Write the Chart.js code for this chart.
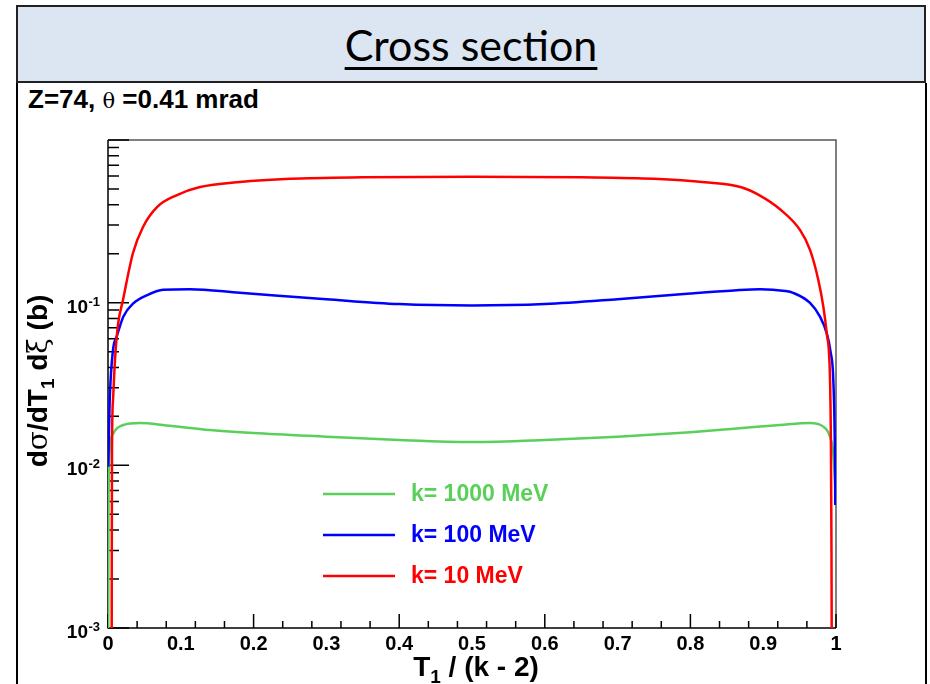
<!DOCTYPE html>
<html>
<head>
<meta charset="utf-8">
<title>Cross section</title>
<script src="https://cdn.jsdelivr.net/npm/chart.js@4.4.1/dist/chart.umd.min.js"></script>
<style>
  html, body { margin: 0; padding: 0; background: #fff; }
  #page { position: relative; width: 930px; height: 684px; overflow: hidden; }
  .band { position: absolute; left: 16px; top: 5px; width: 906px; height: 74px;
          background: #dce6f2; border: 2px solid #222; }
  .band h1 { margin: 0; padding-top: 1px; font: 400 43px Lato, "Open Sans", sans-serif; text-align: center;
             line-height: 74px; text-decoration: underline; text-decoration-thickness: 3px;
             text-underline-offset: 6px; color: #000; }
  .panel { position: absolute; left: 16px; top: 83px; width: 907px; height: 700px;
           border-left: 2px solid #000; border-right: 2px solid #000; }
  .note { position: absolute; left: 28px; top: 84px; line-height: 26px;
          font: bold 26px "Liberation Sans Narrow", Arial, sans-serif; color: #000; white-space: nowrap; }
  .note .sym { font-weight: normal; font-family: "DejaVu Serif", serif; font-size: 21px; }
  canvas { position: absolute; left: 0; top: 0; }
</style>
</head>
<body>
<div id="page">
  <div class="band"><h1>Cross section</h1></div>
  <div class="panel"></div>
  <div class="note">Z=74, <span class="sym">θ</span> =0.41 mrad</div>
  <canvas id="chart" width="930" height="684"></canvas>
</div>

<script>
//======================================================================
// Data: dσ/dT1 dξ against T1/(k-2), three k values.
//======================================================================
var seriesLabels = ['k= 10 MeV', 'k= 100 MeV', 'k= 1000 MeV'];
var seriesColors = ['#ff0000', '#0000ff', '#5ad05a'];

// k = 10 MeV (red)
var red10X = [0.0051, 0.0052, 0.0055, 0.0069, 0.0096, 0.0137, 0.0206, 0.0343, 0.0481, 0.0673,
              0.0948, 0.1264, 0.181, 0.25, 0.35, 0.5, 0.65, 0.75, 0.82, 0.87,
              0.8956, 0.9231, 0.9505, 0.9643, 0.9757, 0.9826, 0.9872, 0.9918, 0.9931, 0.9938, 0.9941];
var red10Y = [0.001, 0.003, 0.0125, 0.0252, 0.0445, 0.073, 0.104, 0.202, 0.292, 0.387,
              0.459, 0.514, 0.552, 0.578, 0.590, 0.594, 0.590, 0.578, 0.550, 0.512,
              0.455, 0.375, 0.280, 0.211, 0.138, 0.0945, 0.0652, 0.0335, 0.0124, 0.003, 0.001];

// k = 100 MeV (blue)
var blue100X = [0.0004, 0.0012, 0.0022, 0.0035, 0.0073, 0.012, 0.021, 0.0348, 0.0532, 0.076,
                0.1126, 0.181, 0.3, 0.4, 0.5, 0.6, 0.7, 0.8, 0.86, 0.8956,
                0.93, 0.941, 0.9643, 0.978, 0.9872, 0.9925, 0.9963, 0.9984, 0.999];
var blue100Y = [0.0098, 0.015, 0.024, 0.033, 0.053, 0.062, 0.082, 0.099, 0.111, 0.120,
                0.121, 0.115, 0.105, 0.098, 0.096, 0.098, 0.105, 0.114, 0.119, 0.121,
                0.118, 0.115, 0.0996, 0.082, 0.065, 0.050, 0.0335, 0.013, 0.0057];

// k = 1000 MeV (green)
var green1000X = [0.0004, 0.0007, 0.0014, 0.0027, 0.0073, 0.021, 0.044, 0.08, 0.14, 0.2,
                  0.3, 0.4, 0.5, 0.6, 0.7, 0.8, 0.86, 0.923, 0.964, 0.9825,
                  0.9918, 0.9963, 1.0];
var green1000Y = [0.001, 0.0046, 0.0094, 0.013, 0.0157, 0.0177, 0.0182, 0.0176, 0.0165, 0.0158,
                  0.0150, 0.0143, 0.0139, 0.0143, 0.0150, 0.0160, 0.0168, 0.0177, 0.0182, 0.0173,
                  0.0150, 0.0119, 0.0064];

// Axis ticks.
var xTicks = [0, 0.02, 0.04, 0.06, 0.08, 0.1, 0.12, 0.14, 0.16, 0.18,
              0.2, 0.22, 0.24, 0.26, 0.28, 0.3, 0.32, 0.34, 0.36, 0.38,
              0.4, 0.42, 0.44, 0.46, 0.48, 0.5, 0.52, 0.54, 0.56, 0.58,
              0.6, 0.62, 0.64, 0.66, 0.68, 0.7, 0.72, 0.74, 0.76, 0.78,
              0.8, 0.82, 0.84, 0.86, 0.88, 0.9, 0.92, 0.94, 0.96, 0.98, 1];
var xTickLabels = ['0', '0.1', '0.2', '0.3', '0.4', '0.5', '0.6', '0.7', '0.8', '0.9', '1'];
var yTicks = [0.001, 0.002, 0.003, 0.004, 0.005, 0.006, 0.007, 0.008, 0.009,
              0.01, 0.02, 0.03, 0.04, 0.05, 0.06, 0.07, 0.08, 0.09,
              0.1, 0.2, 0.3, 0.4, 0.5, 0.6, 0.7, 0.8, 0.9, 1];
var yLabelValues = [0.001, 0.01, 0.1];
var yLabelExps = ['-3', '-2', '-1'];
var xTitle = ['T', '1', ' / (k - 2)'];

function points(xs, ys) {
  return xs.map(function(x, i) { return { x: x, y: ys[i] }; });
}

function isDecade(v) {
  var l = Math.log10(v);
  return Math.abs(l - Math.round(l)) < 1e-6;
}

function isTenth(v) {
  return Math.abs(v * 10 - Math.round(v * 10)) < 1e-6;
}

/**
 * ROOT-style frame, inward ticks, labels and legend.
 */
var rootAxes = {
  id: 'rootAxes',
  beforeDatasetsDraw: function(chart) {
    var ctx = chart.ctx, a = chart.chartArea, x = chart.scales.x, y = chart.scales.y;
    ctx.save();
    ctx.lineWidth = 1.5;
    ctx.strokeStyle = '#555';
    ctx.beginPath();
    ctx.moveTo(a.left, a.top); ctx.lineTo(a.right, a.top); ctx.lineTo(a.right, a.bottom);
    ctx.stroke();

    ctx.strokeStyle = '#000';
    ctx.beginPath();
    ctx.moveTo(a.left, a.top); ctx.lineTo(a.left, a.bottom); ctx.lineTo(a.right, a.bottom);
    ctx.stroke();

    // x ticks, pointing up
    ctx.beginPath();
    x.ticks.forEach(function(t) {
      var px = x.getPixelForValue(t.value);
      ctx.moveTo(px, a.bottom);
      ctx.lineTo(px, a.bottom - (isTenth(t.value) ? 14 : 7));
    });
    // y ticks, pointing right
    y.ticks.forEach(function(t) {
      var py = y.getPixelForValue(t.value);
      ctx.moveTo(a.left, py);
      ctx.lineTo(a.left + (isDecade(t.value) ? 21 : 11), py);
    });
    ctx.stroke();
    ctx.restore();
  },
  afterDraw: function(chart) {
    var ctx = chart.ctx, x = chart.scales.x, y = chart.scales.y;
    ctx.save();
    ctx.fillStyle = '#000';
    ctx.textBaseline = 'alphabetic';

    // x tick labels
    ctx.font = 'bold 20px Arial, "Liberation Sans", sans-serif';
    ctx.textAlign = 'center';
    xTickLabels.forEach(function(lbl) {
      ctx.fillText(lbl, x.getPixelForValue(parseFloat(lbl)), 650);
    });

    // y tick labels 10^n
    yLabelValues.forEach(function(v, i) {
      var py = y.getPixelForValue(v);
      ctx.font = 'bold 19px Arial, "Liberation Sans", sans-serif';
      ctx.textAlign = 'right';
      ctx.fillText('10', 88, py + 10);
      ctx.font = 'bold 13px Arial, "Liberation Sans", sans-serif';
      ctx.textAlign = 'left';
      ctx.fillText(yLabelExps[i], 88.5, py + 3);
    });

    // axis titles
    ctx.textAlign = 'left';
    var bold = 'bold 28px Arial, "Liberation Sans", sans-serif';
    var sub = 'bold 19px Arial, "Liberation Sans", sans-serif';
    var sym = '28px "DejaVu Serif", serif';
    function runs(parts, cx, base) {
      var w = 0;
      parts.forEach(function(p) { ctx.font = p[1]; w += ctx.measureText(p[0]).width; });
      var px = cx - w / 2;
      parts.forEach(function(p) {
        ctx.font = p[1];
        ctx.fillText(p[0], px, base + (p[2] || 0));
        px += ctx.measureText(p[0]).width;
      });
    }
    runs([[xTitle[0], bold], [xTitle[1], sub, 7], [xTitle[2], bold]], 476, 676);

    ctx.save();
    ctx.translate(47, 381);
    ctx.rotate(-Math.PI / 2);
    runs([['d', bold], ['σ', sym], ['/dT', bold], ['1', sub, 7], [' d', bold], ['ξ', sym], [' (b)', bold]], 0, 0);
    ctx.restore();

    // legend, drawn from the chart's own datasets
    var ds = chart.data.datasets;
    var rows = [2, 1, 0];
    rows.forEach(function(idx, r) {
      var ly = 494 + r * 41;
      ctx.strokeStyle = ds[idx].borderColor;
      ctx.lineWidth = 2.5;
      ctx.beginPath();
      ctx.moveTo(323, ly); ctx.lineTo(395, ly);
      ctx.stroke();
      ctx.fillStyle = ds[idx].borderColor;
      ctx.font = 'bold 23px Arial, "Liberation Sans", sans-serif';
      ctx.textAlign = 'left';
      ctx.textBaseline = 'middle';
      ctx.fillText(ds[idx].label, 411, ly + 1);
    });
    ctx.restore();
  }
};

var datasets = [
  { label: seriesLabels[0], data: points(red10X, red10Y), borderColor: seriesColors[0] },
  { label: seriesLabels[1], data: points(blue100X, blue100Y), borderColor: seriesColors[1] },
  { label: seriesLabels[2], data: points(green1000X, green1000Y), borderColor: seriesColors[2] }
].map(function(d) {
  d.borderWidth = 2.5;
  d.pointRadius = 0;
  d.fill = false;
  d.cubicInterpolationMode = 'monotone';
  return d;
});

new Chart(document.getElementById('chart'), {
  type: 'line',
  data: { datasets: datasets },
  options: {
    responsive: false,
    animation: false,
    devicePixelRatio: 1,
    layout: { padding: { left: 108, top: 140, right: 94, bottom: 56 } },
    plugins: { legend: { display: false }, tooltip: { enabled: false } },
    scales: {
      x: {
        type: 'linear', min: 0, max: 1, display: false,
        afterBuildTicks: function(scale) {
          scale.ticks = xTicks.map(function(v) { return { value: v }; });
        }
      },
      y: {
        type: 'logarithmic', min: 0.001, max: 1, display: false,
        afterBuildTicks: function(scale) {
          scale.ticks = yTicks.map(function(v) { return { value: v }; });
        }
      }
    }
  },
  plugins: [rootAxes]
});
</script>
</body>
</html>
